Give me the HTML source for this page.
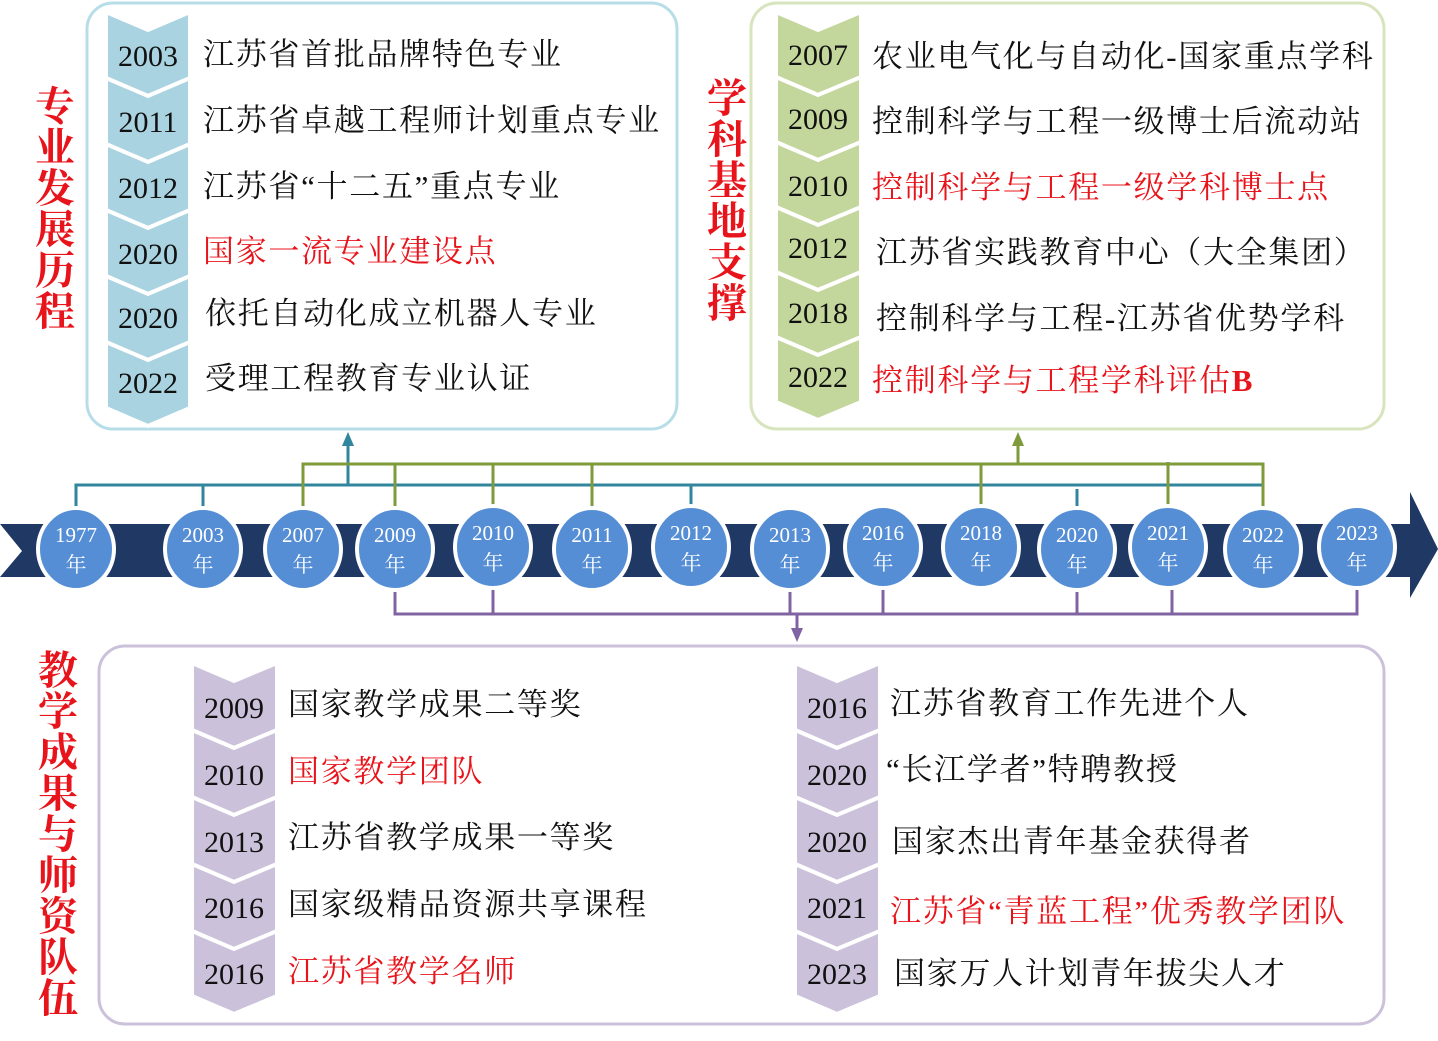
<!DOCTYPE html>
<html><head><meta charset="utf-8"><style>
html,body{margin:0;padding:0;background:#fff;}
svg{display:block}
.y{font-family:"Liberation Serif","Times New Roman",serif;font-size:30px;fill:#111;text-anchor:middle}
.t{font-family:"Liberation Serif","Noto Serif CJK SC",serif;font-size:31px;fill:#111;letter-spacing:1.7px}
.r{fill:#e8141b}
.v{font-family:"Liberation Serif","Noto Serif CJK SC",serif;font-size:40px;font-weight:bold;fill:#e8141b;text-anchor:middle}
.c{font-family:"Liberation Serif","Noto Serif CJK SC",serif;font-size:21px;fill:#fff;text-anchor:middle}
</style></head><body>
<svg width="1438" height="1041" viewBox="0 0 1438 1041" xmlns="http://www.w3.org/2000/svg">
<rect x="87" y="3" width="590" height="426" rx="26" fill="#fff" stroke="#b7dde8" stroke-width="3"/>
<rect x="751" y="3" width="633" height="426" rx="26" fill="#fff" stroke="#d7e4bd" stroke-width="3"/>
<rect x="99" y="646" width="1285" height="378" rx="26" fill="#fff" stroke="#ccc1da" stroke-width="3"/>

<g fill="#a9d3e0" stroke="#fff" stroke-width="4">
<polygon points="106,12 148,30 190,12 190,78 148,96 106,78"/>
<polygon points="106,78 148,96 190,78 190,144 148,162 106,144"/>
<polygon points="106,144 148,162 190,144 190,210 148,228 106,210"/>
<polygon points="106,210 148,228 190,210 190,276 148,294 106,276"/>
<polygon points="106,276 148,294 190,276 190,342 148,360 106,342"/>
<polygon points="106,342 148,360 190,342 190,408 148,426 106,408"/>
</g>
<g class="y">
<text x="148" y="66">2003</text><text x="148" y="132">2011</text><text x="148" y="198">2012</text>
<text x="148" y="264">2020</text><text x="148" y="328">2020</text><text x="148" y="393">2022</text>
</g>
<g class="t">
<text x="203" y="65">江苏省首批品牌特色专业</text>
<text x="203" y="131">江苏省卓越工程师计划重点专业</text>
<text x="203" y="197">江苏省“十二五”重点专业</text>
<text x="203" y="262" class="r">国家一流专业建设点</text>
<text x="205" y="324">依托自动化成立机器人专业</text>
<text x="205" y="389">受理工程教育专业认证</text>
</g>

<g fill="#c3d69b" stroke="#fff" stroke-width="4">
<polygon points="776,12 818,30 861,12 861,77 818,95 776,77"/>
<polygon points="776,77 818,95 861,77 861,142 818,160 776,142"/>
<polygon points="776,142 818,160 861,142 861,207 818,225 776,207"/>
<polygon points="776,207 818,225 861,207 861,272 818,290 776,272"/>
<polygon points="776,272 818,290 861,272 861,337 818,355 776,337"/>
<polygon points="776,337 818,355 861,337 861,402 818,420 776,402"/>
</g>
<g class="y">
<text x="818" y="65">2007</text><text x="818" y="129">2009</text><text x="818" y="196">2010</text>
<text x="818" y="258">2012</text><text x="818" y="323">2018</text><text x="818" y="387">2022</text>
</g>
<g class="t">
<text x="872" y="67">农业电气化与自动化-国家重点学科</text>
<text x="872" y="132">控制科学与工程一级博士后流动站</text>
<text x="872" y="198" class="r">控制科学与工程一级学科博士点</text>
<text x="876" y="263">江苏省实践教育中心（大全集团）</text>
<text x="876" y="329">控制科学与工程-江苏省优势学科</text>
<text x="872" y="391" class="r">控制科学与工程学科评估<tspan font-weight="bold">B</tspan></text>
</g>

<g fill="#ccc1da" stroke="#fff" stroke-width="4">
<polygon points="192,663 234,681 277,663 277,730 234,748 192,730"/>
<polygon points="192,730 234,748 277,730 277,797 234,815 192,797"/>
<polygon points="192,797 234,815 277,797 277,864 234,882 192,864"/>
<polygon points="192,864 234,882 277,864 277,931 234,949 192,931"/>
<polygon points="192,931 234,949 277,931 277,996 234,1014 192,996"/>
<polygon points="795,663 837,681 880,663 880,730 837,748 795,730"/>
<polygon points="795,730 837,748 880,730 880,797 837,815 795,797"/>
<polygon points="795,797 837,815 880,797 880,864 837,882 795,864"/>
<polygon points="795,864 837,882 880,864 880,931 837,949 795,931"/>
<polygon points="795,931 837,949 880,931 880,996 837,1014 795,996"/>
</g>
<g class="y">
<text x="234" y="718">2009</text><text x="234" y="785">2010</text><text x="234" y="852">2013</text>
<text x="234" y="918">2016</text><text x="234" y="984">2016</text>
<text x="837" y="718">2016</text><text x="837" y="785">2020</text><text x="837" y="852">2020</text>
<text x="837" y="918">2021</text><text x="837" y="984">2023</text>
</g>
<g class="t">
<text x="288" y="715">国家教学成果二等奖</text>
<text x="288" y="782" class="r">国家教学团队</text>
<text x="288" y="848">江苏省教学成果一等奖</text>
<text x="288" y="915">国家级精品资源共享课程</text>
<text x="288" y="982" class="r">江苏省教学名师</text>
<text x="890" y="714">江苏省教育工作先进个人</text>
<text x="886" y="780">“长江学者”特聘教授</text>
<text x="892" y="852">国家杰出青年基金获得者</text>
<text x="890" y="922" class="r">江苏省“青蓝工程”优秀教学团队</text>
<text x="894" y="984">国家万人计划青年拔尖人才</text>
</g>

<g class="v">
<text x="55" y="120">专</text><text x="55" y="161">业</text><text x="55" y="202">发</text>
<text x="55" y="243">展</text><text x="55" y="284">历</text><text x="55" y="325">程</text>
<text x="727" y="112">学</text><text x="727" y="153">科</text><text x="727" y="194">基</text>
<text x="727" y="235">地</text><text x="727" y="276">支</text><text x="727" y="317">撑</text>
<text x="58" y="684">教</text><text x="58" y="725">学</text><text x="58" y="766">成</text>
<text x="58" y="807">果</text><text x="58" y="848">与</text><text x="58" y="889">师</text>
<text x="58" y="930">资</text><text x="58" y="971">队</text><text x="58" y="1012">伍</text>
</g>

<g fill="none" stroke-width="3">
<path stroke="#31859c" d="M76,515 V485 H1263 M203,485 V508 M691,485 V508 M1077,489 V506 M348,485 V445"/>
<path stroke="#7f9a3a" d="M303,515 V464 H1263 V515 M395,464 V515 M493,464 V515 M592,464 V512 M981,464 V515 M1168,462 V508 M1018,464 V445"/>
<path stroke="#8064a2" d="M395,588 V614 H1357 V585 M493,585 V614 M790,585 V614 M883,585 V614 M1077,590 V614 M1172,590 V614 M797,614 V630"/>
</g>
<polygon points="348,432 342,446 354,446" fill="#31859c"/>
<polygon points="1018,432 1012,446 1024,446" fill="#7f9a3a"/>
<polygon points="797,642 791,628 803,628" fill="#8064a2"/>

<polygon points="0,524 1410,524 1410,492 1438,549 1410,598 1410,577 0,577 22,551" fill="#1f3864"/>

<g fill="#558ed5" stroke="#fff" stroke-width="4">
<ellipse cx="76" cy="549" rx="38" ry="41"/><ellipse cx="203" cy="549" rx="38" ry="41"/>
<ellipse cx="303" cy="549" rx="38" ry="41"/><ellipse cx="395" cy="549" rx="38" ry="41"/>
<ellipse cx="493" cy="547" rx="38" ry="41"/><ellipse cx="592" cy="549" rx="38" ry="41"/>
<ellipse cx="691" cy="547" rx="38" ry="41"/><ellipse cx="790" cy="549" rx="38" ry="41"/>
<ellipse cx="883" cy="547" rx="38" ry="41"/><ellipse cx="981" cy="547" rx="38" ry="41"/>
<ellipse cx="1077" cy="549" rx="38" ry="41"/><ellipse cx="1168" cy="547" rx="38" ry="41"/>
<ellipse cx="1263" cy="549" rx="38" ry="41"/><ellipse cx="1357" cy="547" rx="38" ry="41"/>
</g>
<g class="c">
<text x="76" y="542">1977</text><text x="76" y="572">年</text>
<text x="203" y="542">2003</text><text x="203" y="572">年</text>
<text x="303" y="542">2007</text><text x="303" y="572">年</text>
<text x="395" y="542">2009</text><text x="395" y="572">年</text>
<text x="493" y="540">2010</text><text x="493" y="570">年</text>
<text x="592" y="542">2011</text><text x="592" y="572">年</text>
<text x="691" y="540">2012</text><text x="691" y="570">年</text>
<text x="790" y="542">2013</text><text x="790" y="572">年</text>
<text x="883" y="540">2016</text><text x="883" y="570">年</text>
<text x="981" y="540">2018</text><text x="981" y="570">年</text>
<text x="1077" y="542">2020</text><text x="1077" y="572">年</text>
<text x="1168" y="540">2021</text><text x="1168" y="570">年</text>
<text x="1263" y="542">2022</text><text x="1263" y="572">年</text>
<text x="1357" y="540">2023</text><text x="1357" y="570">年</text>
</g>
</svg>
</body></html>
